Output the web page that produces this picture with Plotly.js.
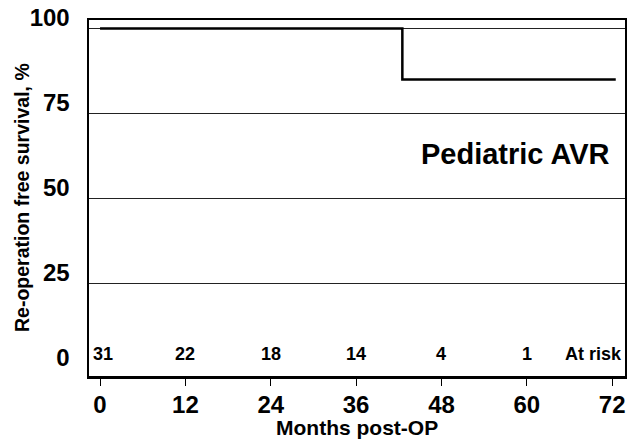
<!DOCTYPE html>
<html>
<head>
<meta charset="utf-8">
<script src="https://cdn.plot.ly/plotly-3.0.1.min.js"></script>
<style>html,body{margin:0;padding:0;background:#fff;}#chart{width:627px;height:442px;}</style>
</head>
<body>
<div id="chart"></div>
<script>
// Kaplan-Meier step curve (re-operation free survival, %)
const months = [0, 42.5, 72.5];
const survival = [100, 85, 85];
// number at risk
const riskMonths = [0, 12, 24, 36, 48, 60];
const riskCounts = ['31', '22', '18', '14', '4', '1'];
const riskLabel = 'At risk';
// axis ticks
const xTicks = [0, 12, 24, 36, 48, 60, 72];
const yTicks = [0, 25, 50, 75, 100];
const gridLevels = [25, 50, 75, 100];
const seriesLabel = 'Pediatric AVR';
const xTitle = 'Months post-OP';
const yTitle = 'Re-operation free survival, %';

const sans = '"Liberation Sans", Arial, Helvetica, sans-serif';

const traces = [{
  x: months, y: survival, type: 'scatter', mode: 'lines',
  line: {shape: 'hv', color: '#000', width: 2.5},
  hoverinfo: 'skip', showlegend: false
}];

const annotations = riskMonths.map((m, i) => ({
  x: m, y: 4.4, xref: 'x', yref: 'y', text: '<b>' + riskCounts[i] + '</b>',
  showarrow: false, xanchor: i === 0 ? 'left' : 'center', yanchor: 'middle',
  xshift: i === 0 ? -9 : 0,
  font: {family: sans, size: 18, color: '#000'}
}));
annotations.push({
  x: 1, xref: 'paper', y: 4.4, yref: 'y', text: '<b>' + riskLabel + '</b>',
  showarrow: false, xanchor: 'right', yanchor: 'middle', xshift: -1,
  font: {family: sans, size: 18, color: '#000'}
});
annotations.push({
  x: 1, xref: 'paper', y: 63, yref: 'y', text: '<b>' + seriesLabel + '</b>',
  showarrow: false, xanchor: 'right', yanchor: 'middle', xshift: -13,
  font: {family: sans, size: 29, color: '#000'}
});
annotations.push({
  x: 0, xref: 'paper', y: 0.5, yref: 'paper', text: '<b>' + yTitle + '</b>',
  showarrow: false, xanchor: 'center', yanchor: 'middle', xshift: -67, textangle: -90,
  font: {family: sans, size: 19.5, color: '#000'}
});
annotations.push({
  x: 0.5, xref: 'paper', y: 0, yref: 'paper', text: '<b>' + xTitle + '</b>',
  showarrow: false, xanchor: 'center', yanchor: 'middle', yshift: -51,
  font: {family: sans, size: 21, color: '#000'}
});

const shapes = gridLevels.map(v => ({
  type: 'line', xref: 'paper', x0: 0, x1: 1, yref: 'y', y0: v, y1: v,
  line: {color: '#222', width: 1}, layer: 'below'
}));

const layout = {
  width: 627, height: 442,
  margin: {l: 89, r: 2, t: 20, b: 66},
  paper_bgcolor: '#fff', plot_bgcolor: '#fff',
  showlegend: false,
  xaxis: {
    range: [-1.55, 73.8], tickvals: xTicks, ticktext: xTicks.map(String),
    showgrid: false, zeroline: false,
    showline: true, linecolor: '#000', linewidth: 2.5, mirror: true,
    ticks: 'outside', ticklen: 7, tickwidth: 1, tickcolor: '#000',
    ticklabelstandoff: -1, ticklabeloverflow: 'allow',
    tickfont: {family: sans, size: 24, color: '#000', weight: 'bold'}
  },
  yaxis: {
    range: [-2.2, 102.5], tickvals: yTicks, ticktext: yTicks.map(String),
    showgrid: false, zeroline: false,
    showline: true, linecolor: '#000', linewidth: 2.5, mirror: true,
    ticks: '', ticklabelshift: -11, ticklabelstandoff: 12, ticklabeloverflow: 'allow',
    tickfont: {family: sans, size: 24, color: '#000', weight: 'bold'}
  },
  annotations: annotations,
  shapes: shapes
};

Plotly.newPlot('chart', traces, layout, {staticPlot: true, displayModeBar: false});
</script>
</body>
</html>
